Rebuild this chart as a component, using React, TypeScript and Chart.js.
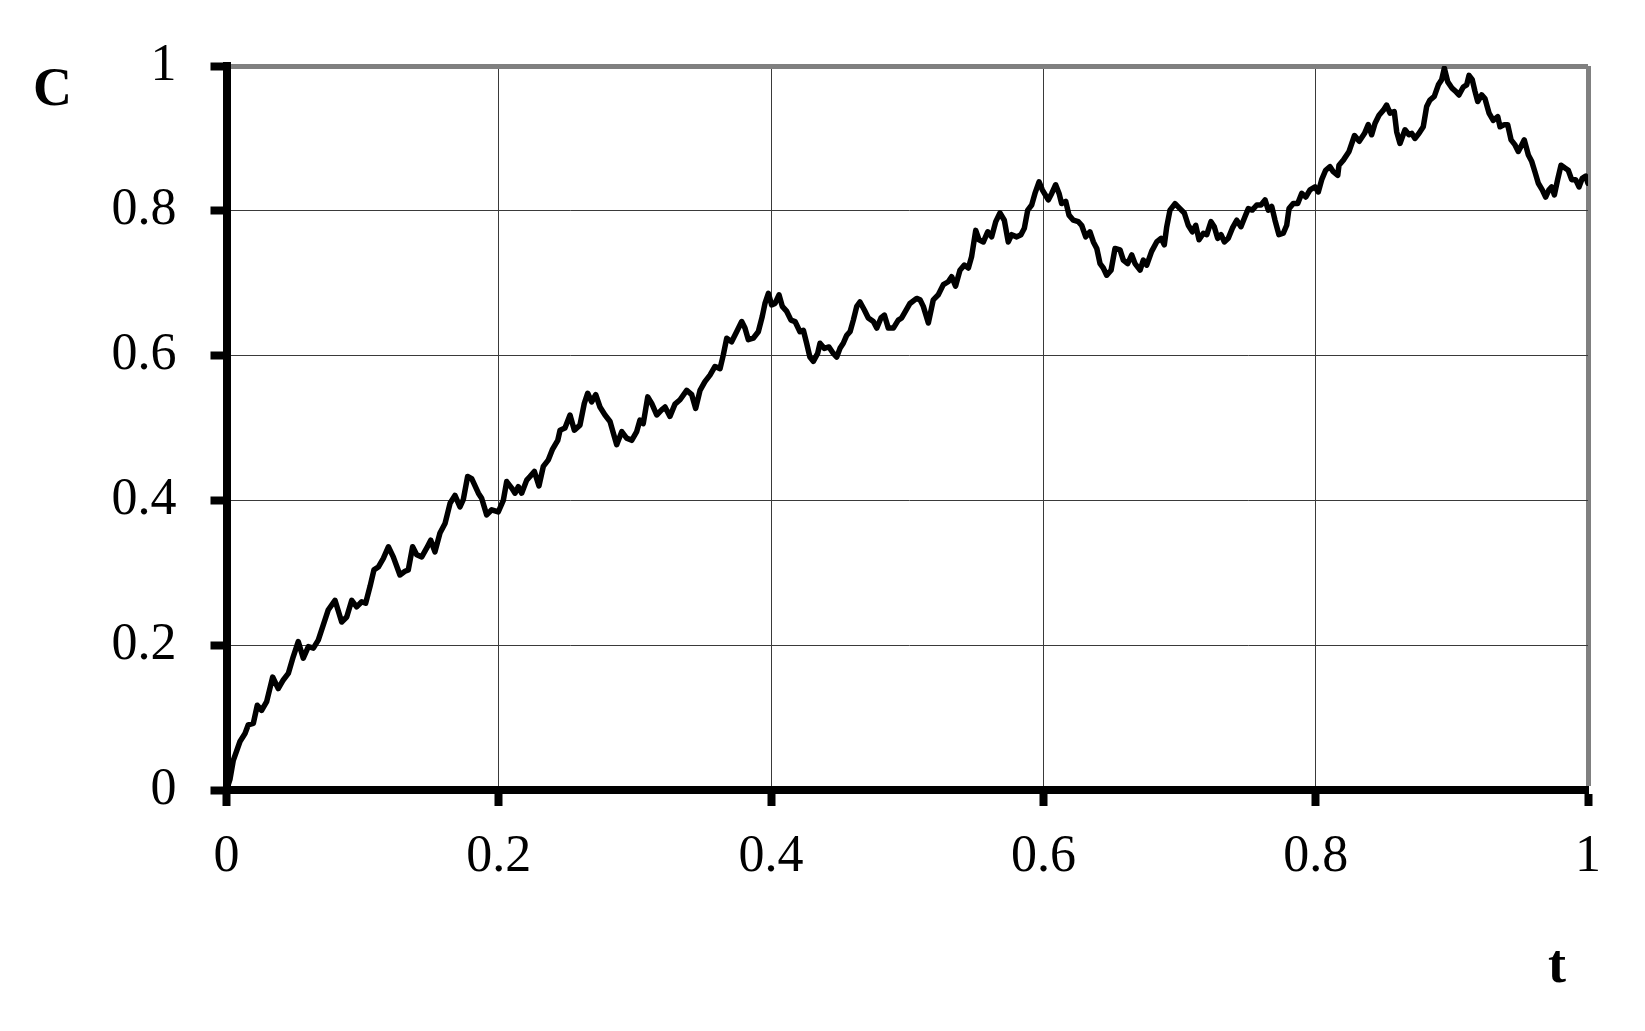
import React, { useEffect, useRef } from "react";
import { Chart, registerables } from "chart.js";

Chart.register(...registerables);

// time values (t)
const tValues = [
  0, 0.0026, 0.005, 0.0099, 0.0136, 0.016, 0.0197, 0.0226, 0.0258, 0.0295, 0.0339, 0.038, 0.0417, 0.0454, 0.049,
  0.0527, 0.0564, 0.0601, 0.0638, 0.0674, 0.0711, 0.0748, 0.0797, 0.0846, 0.0883, 0.092, 0.0956, 0.0993, 0.1022,
  0.1054, 0.1083, 0.1115, 0.1152, 0.1189, 0.1225, 0.1274, 0.1311, 0.1335, 0.1367, 0.1397, 0.1434, 0.147, 0.15,
  0.1531, 0.1568,
  0.1605, 0.1642, 0.1678, 0.1715, 0.1739, 0.1771, 0.1801, 0.185, 0.1874, 0.1911, 0.1948, 0.1996, 0.2033, 0.2058,
  0.2095, 0.2119, 0.2143, 0.2168, 0.2205, 0.2229, 0.2261, 0.2295, 0.2327, 0.2364, 0.2393, 0.2433, 0.245, 0.2486,
  0.2523, 0.2555, 0.2596, 0.2628, 0.2653, 0.2682, 0.2712, 0.2743, 0.278, 0.2817, 0.2841, 0.2866, 0.2903, 0.2939,
  0.2976, 0.3013, 0.3037, 0.3061, 0.3094, 0.3123, 0.316, 0.3196, 0.3221, 0.3257, 0.3294,
  0.3331, 0.338, 0.3417, 0.3446, 0.3478, 0.3514, 0.3551, 0.3588, 0.3625, 0.3649, 0.3674, 0.371, 0.3747, 0.3784,
  0.3808, 0.3833, 0.3869, 0.3906, 0.3935, 0.3955, 0.398, 0.4004, 0.4029, 0.4058, 0.4082, 0.4115, 0.4146, 0.4176,
  0.4212, 0.4237, 0.4261, 0.4285, 0.431, 0.4342, 0.4359, 0.4391, 0.4425, 0.4457, 0.4482, 0.4506, 0.453, 0.4555,
  0.458, 0.4604, 0.4629, 0.4653, 0.4685, 0.4714, 0.4751, 0.4776, 0.4807, 0.4832, 0.4861, 0.4898, 0.4934, 0.4959,
  0.502, 0.5069, 0.5094, 0.5118, 0.5155, 0.5191, 0.5228, 0.5265, 0.5301, 0.5326, 0.5355, 0.5387, 0.5419, 0.5449,
  0.5473, 0.5503, 0.5527, 0.5559, 0.5591, 0.562, 0.565, 0.5681, 0.5713, 0.5742, 0.5767, 0.5804, 0.5835, 0.586,
  0.5885, 0.5914, 0.5938, 0.5968, 0.5992, 0.6036, 0.6061, 0.609, 0.6115, 0.6134, 0.6164, 0.6188, 0.622, 0.6256,
  0.6281, 0.6311, 0.6342, 0.6367, 0.6392, 0.6416, 0.644, 0.6465, 0.6497, 0.6526, 0.6563, 0.6587, 0.6619, 0.6649,
  0.6673,
  0.671, 0.6734, 0.6759, 0.6795, 0.6832, 0.6864, 0.6888, 0.6906, 0.693, 0.6967, 0.7003, 0.7035, 0.7064, 0.7094,
  0.7119, 0.7143, 0.7175, 0.72, 0.7231, 0.7255, 0.728, 0.7305, 0.7329, 0.7358, 0.7388, 0.742, 0.7451, 0.7481,
  0.7505, 0.7534, 0.7567, 0.7598, 0.7628, 0.7652, 0.7677, 0.7701, 0.773, 0.7762, 0.7787, 0.7804, 0.7835, 0.7868,
  0.7897, 0.7927, 0.7958, 0.7995, 0.8019, 0.8044, 0.8073, 0.8105, 0.8129, 0.8162, 0.8171, 0.8203,
  0.8245, 0.8285, 0.832,
  0.8359, 0.8386, 0.8411, 0.8436, 0.8465, 0.8497, 0.8521, 0.8546, 0.8577, 0.8595, 0.8619, 0.8656, 0.8685, 0.8705,
  0.8729, 0.8759, 0.879, 0.8815, 0.8839, 0.8871, 0.8901, 0.8925, 0.8945, 0.897, 0.9003, 0.9028, 0.9052, 0.9084,
  0.9109, 0.9126, 0.915, 0.917, 0.919, 0.9219, 0.9243, 0.9273, 0.9304, 0.9337, 0.9354, 0.9385, 0.941, 0.9435,
  0.9464, 0.9488, 0.9513, 0.9532, 0.9562, 0.9587, 0.961, 0.9635, 0.9664, 0.9689, 0.9713, 0.9733, 0.9753, 0.9777,
  0.9802, 0.9831, 0.9855, 0.988, 0.9909, 0.9934, 0.9958, 0.9983, 1.0,
];

// C values
const cValues = [
  0, 0.015, 0.041, 0.067, 0.078, 0.09, 0.092, 0.117, 0.11, 0.122, 0.156, 0.14, 0.152, 0.161, 0.184,
  0.205, 0.182, 0.198, 0.196, 0.207, 0.228, 0.249, 0.262, 0.232, 0.239, 0.262, 0.253, 0.26, 0.258,
  0.281, 0.304, 0.308, 0.32, 0.336, 0.322, 0.297, 0.302, 0.304, 0.336, 0.325, 0.322, 0.334, 0.345,
  0.329, 0.355,
  0.368, 0.396, 0.407, 0.391, 0.401, 0.433, 0.43, 0.41, 0.403, 0.38, 0.387, 0.384, 0.4, 0.426,
  0.417, 0.41, 0.419, 0.41, 0.428, 0.433, 0.44, 0.42, 0.447, 0.456, 0.47, 0.483, 0.497, 0.5,
  0.518, 0.497, 0.504, 0.534, 0.548, 0.536, 0.546, 0.529, 0.518, 0.509, 0.493, 0.477, 0.495, 0.486,
  0.483, 0.495, 0.511, 0.506, 0.543, 0.534, 0.518, 0.525, 0.529, 0.516, 0.533,
  0.539, 0.552, 0.546, 0.527, 0.552, 0.564, 0.573, 0.585, 0.582, 0.601, 0.624, 0.619, 0.633, 0.647,
  0.638, 0.622, 0.624, 0.633, 0.654, 0.672, 0.686, 0.67, 0.672, 0.684, 0.668, 0.661, 0.649, 0.647,
  0.633, 0.635, 0.617, 0.598, 0.592, 0.603, 0.617, 0.61, 0.612, 0.603, 0.598, 0.61, 0.617, 0.628,
  0.633, 0.649, 0.668, 0.674, 0.663, 0.652, 0.647, 0.638, 0.652, 0.656, 0.638, 0.638, 0.649, 0.652,
  0.672, 0.679, 0.677, 0.668, 0.645, 0.677, 0.684, 0.698, 0.702, 0.709, 0.696, 0.718, 0.725, 0.721,
  0.737, 0.773, 0.76, 0.757, 0.771, 0.764, 0.785, 0.797, 0.787, 0.757, 0.767, 0.764, 0.767, 0.776,
  0.801, 0.808, 0.824, 0.84, 0.829, 0.815, 0.824, 0.836, 0.824, 0.81, 0.813, 0.794, 0.787, 0.785,
  0.78, 0.764, 0.771, 0.757, 0.748, 0.727, 0.721, 0.711, 0.718, 0.748, 0.746, 0.732, 0.727, 0.739,
  0.727,
  0.718, 0.732, 0.725, 0.744, 0.757, 0.762, 0.753, 0.778, 0.801, 0.81, 0.803, 0.797, 0.78, 0.771,
  0.78, 0.76, 0.769, 0.767, 0.785, 0.778, 0.762, 0.767, 0.757, 0.762, 0.776, 0.787, 0.778, 0.792,
  0.803, 0.801, 0.808, 0.808, 0.815, 0.801, 0.806, 0.787, 0.767, 0.769, 0.78, 0.803, 0.81, 0.81,
  0.824, 0.819, 0.829, 0.833, 0.826, 0.843, 0.856, 0.861, 0.854, 0.849, 0.863, 0.87,
  0.882, 0.904, 0.896,
  0.907, 0.919, 0.905, 0.921, 0.932, 0.939, 0.946, 0.935, 0.937, 0.909, 0.893, 0.912, 0.905, 0.907,
  0.9, 0.907, 0.916, 0.944, 0.953, 0.958, 0.974, 0.981, 0.997, 0.978, 0.969, 0.965, 0.96, 0.971,
  0.974, 0.987, 0.981, 0.965, 0.951, 0.96, 0.955, 0.935, 0.925, 0.93, 0.916, 0.919, 0.919, 0.898,
  0.891, 0.882, 0.891, 0.898, 0.877, 0.868, 0.854, 0.838, 0.829, 0.819, 0.829, 0.833, 0.822, 0.843,
  0.863, 0.859, 0.856, 0.843, 0.843, 0.833, 0.845, 0.848, 0.838,
];

const tickValues = [0, 0.2, 0.4, 0.6, 0.8, 1];
const tickLabels = ["0", "0.2", "0.4", "0.6", "0.8", "1"];
const yAxisLabel = "C";
const xAxisLabel = "t";

const FONT = "'Liberation Serif', 'Times New Roman', serif";

export default function App() {
  const ref = useRef<HTMLCanvasElement>(null);

  useEffect(() => {
    const canvas = ref.current;
    if (!canvas) return;

    const gridColor = (ctx: any) => (ctx.tick && ctx.tick.value === 1 ? "#808080" : "#3a3a3a");
    const gridWidth = (ctx: any) => (ctx.tick && ctx.tick.value === 1 ? 5 : 1);

    const axisTitles = {
      id: "axisTitles",
      afterDraw(chart: any) {
        const { ctx, chartArea } = chart;
        ctx.save();
        ctx.fillStyle = "#000";
        ctx.font = `bold 54px ${FONT}`;
        ctx.textAlign = "center";
        ctx.textBaseline = "alphabetic";
        ctx.fillText(yAxisLabel, chartArea.left - 174, chartArea.top + 39);
        ctx.fillText(xAxisLabel, chartArea.right - 31, chartArea.bottom + 192);
        ctx.restore();
      },
    };

    const makeTicks = (scale: any) => {
      scale.ticks = tickValues.map((v) => ({ value: v }));
    };

    const chart = new Chart(canvas, {
      type: "line",
      data: {
        datasets: [
          {
            data: tValues.map((t, i) => ({ x: t, y: cValues[i] })),
            borderColor: "#000",
            borderWidth: 5.5,
            pointRadius: 0,
            tension: 0,
            fill: false,
            borderJoinStyle: "round",
            borderCapStyle: "round",
          },
        ],
      },
      options: {
        responsive: false,
        maintainAspectRatio: false,
        animation: false,
        devicePixelRatio: 1,
        layout: { padding: { left: 0, top: 66, right: 57, bottom: 0 } },
        plugins: { legend: { display: false }, tooltip: { enabled: false } },
        scales: {
          x: {
            type: "linear",
            min: 0,
            max: 1,
            afterBuildTicks: makeTicks,
            afterFit: (s: any) => {
              s.height = 241;
            },
            grid: {
              color: gridColor,
              lineWidth: gridWidth,
              drawTicks: true,
              tickLength: 16,
              tickColor: "#000",
              tickWidth: 8,
            },
            border: { display: true, color: "#000", width: 8 },
            ticks: {
              color: "#000",
              font: { family: FONT, size: 52 },
              padding: 20,
              maxRotation: 0,
              autoSkip: false,
              callback: (_v: any, i: number) => tickLabels[i],
            },
          },
          y: {
            type: "linear",
            min: 0,
            max: 1,
            afterBuildTicks: makeTicks,
            afterFit: (s: any) => {
              s.width = 226.5;
            },
            grid: {
              color: gridColor,
              lineWidth: gridWidth,
              drawTicks: true,
              tickLength: 16,
              tickColor: "#000",
              tickWidth: 8,
            },
            border: { display: true, color: "#000", width: 8 },
            ticks: {
              color: "#000",
              font: { family: FONT, size: 52 },
              padding: 34,
              autoSkip: false,
              callback: (_v: any, i: number) => tickLabels[i],
            },
          },
        },
      },
      plugins: [axisTitles],
    } as any);

    return () => {
      chart.destroy();
    };
  }, []);

  return (
    <div style={{ position: "fixed", left: 0, top: 0, width: 1645, height: 1031, background: "#fff" }}>
      <canvas ref={ref} width={1645} height={1031} style={{ display: "block", width: 1645, height: 1031 }} />
    </div>
  );
}
